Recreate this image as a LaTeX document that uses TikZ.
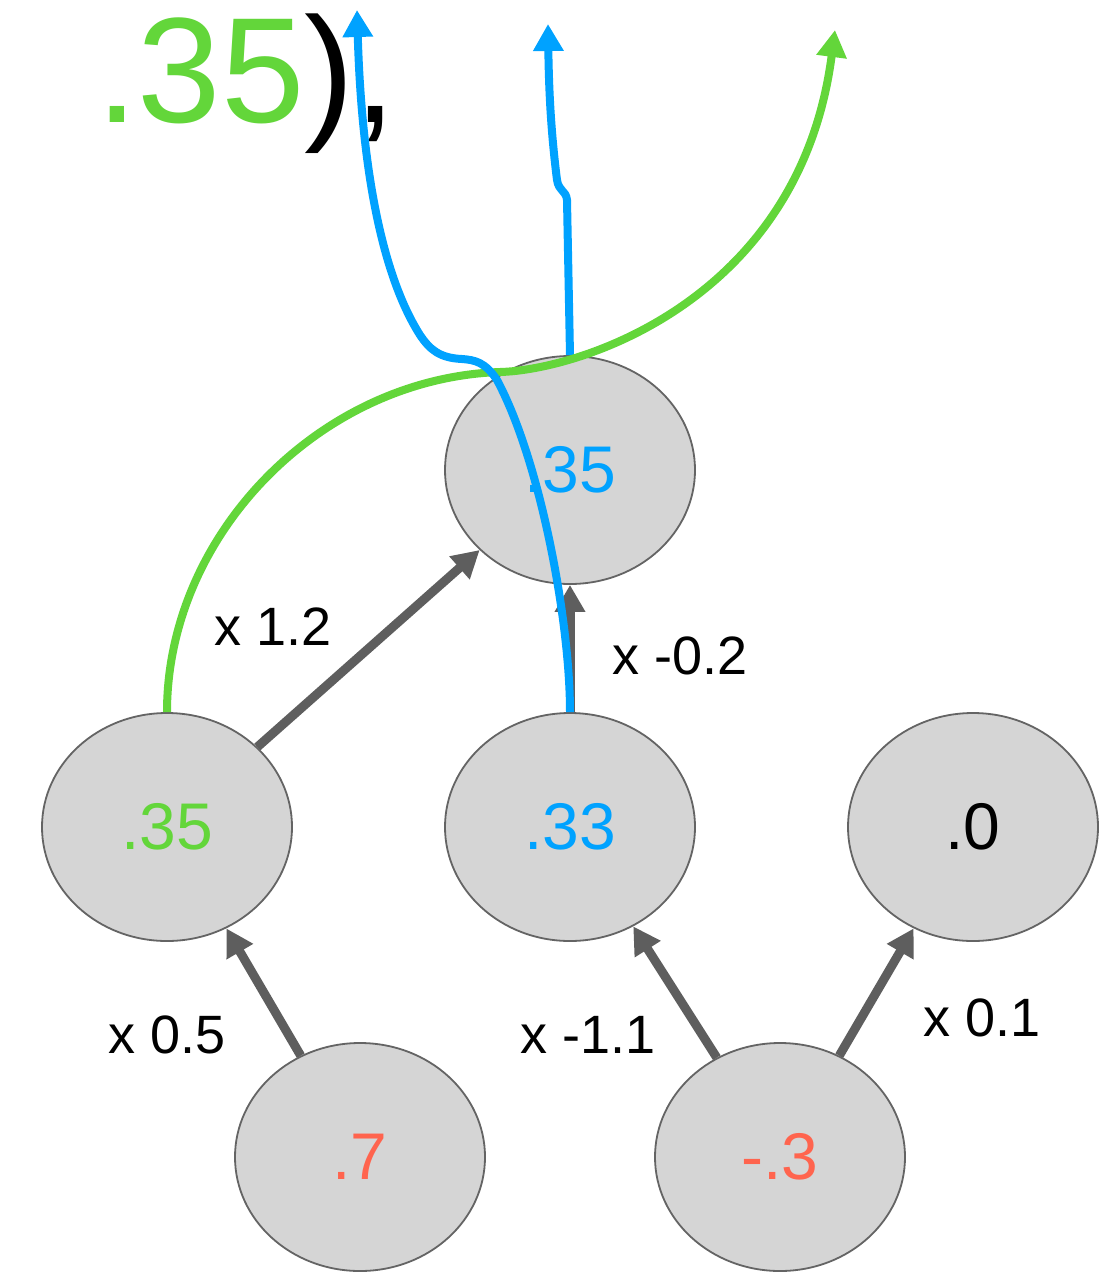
\documentclass[tikz,border=0pt]{standalone}
\usepackage{fontspec}
\setmainfont{Liberation Sans}
\usetikzlibrary{shapes.geometric,arrows.meta}
\definecolor{ngreen}{RGB}{99,214,58}
\definecolor{nblue}{RGB}{0,162,255}
\definecolor{nred}{RGB}{255,100,78}
\definecolor{ngray}{RGB}{94,94,94}
\definecolor{nfill}{RGB}{213,213,213}
\definecolor{nborder}{RGB}{100,100,100}
\tikzset{
  neuron/.style={ellipse, draw=nborder, line width=1.8pt, fill=nfill,
    minimum width=250pt, minimum height=228pt, inner sep=0pt,
    font=\fontsize{66}{66}\selectfont},
  wlabel/.style={inner sep=0pt, font=\fontsize{54}{54}\selectfont},
  wedge/.style={draw=ngray, line width=9pt,
    -{Triangle[width=29pt,length=27pt]}},
  flow/.style={line width=8pt, -{Triangle[width=29pt,length=27pt]}},
}
\begin{document}
\begin{tikzpicture}[x=1pt,y=-1pt]
\useasboundingbox (0,0) rectangle (1101,1283);
\fill[white] (0,0) rectangle (1101,1283);

% big partial text
\node[anchor=base west, inner sep=0pt, font=\fontsize{150}{150}\selectfont] (big) at (96,122)
  {\textcolor{ngreen}{.35}),};

% neurons
\node[neuron, text=nblue]  (top) at (570,470) {.35};
\node[neuron, text=ngreen] (h1)  at (167,827) {.35};
\node[neuron, text=nblue]  (h2)  at (570,827) {.33};
\node[neuron, text=black]  (h3)  at (973,827) {.0};
\node[neuron, text=nred]   (i1)  at (360,1157) {.7};
\node[neuron, text=nred]   (i2)  at (780,1157) {-.3};

% weighted edges
\draw[wedge] (i1) -- (h1);
\draw[wedge] (i2) -- (h2);
\draw[wedge] (i2) -- (h3);
\draw[wedge] (h1) -- (top);
\draw[wedge] (h2) -- (top);

% weight labels
\node[wlabel] (w1) at (167,1035) {x 0.5};
\node[wlabel] (w2) at (588,1035) {x -1.1};
\node[wlabel] (w3) at (982,1018) {x 0.1};
\node[wlabel] (w4) at (273,627)  {x 1.2};
\node[wlabel] (w5) at (680,656)  {x -0.2};

% flows
\coordinate (b2end) at (548,24);
\coordinate (gend) at (835,30);
\coordinate (b1end) at (357,10);

\draw[flow, nblue] (top.north) -- (567,200)
  .. controls (566,190) and (559,192) .. (557,180)
  .. controls (552,140) and (549,100) .. (b2end);

\draw[flow, ngreen] (h1.north)
  .. controls (167,535) and (320,378) .. (500,372)
  .. controls (580,370) and (800,300) .. (gend);

\draw[flow, nblue] (h2.north)
  .. controls (570,620) and (540,460) .. (497,380)
  .. controls (485,362) and (475,360) .. (462,359)
  .. controls (440,358) and (430,350) .. (420,335)
  .. controls (385,280) and (362,180) .. (b1end);
\end{tikzpicture}
\end{document}
